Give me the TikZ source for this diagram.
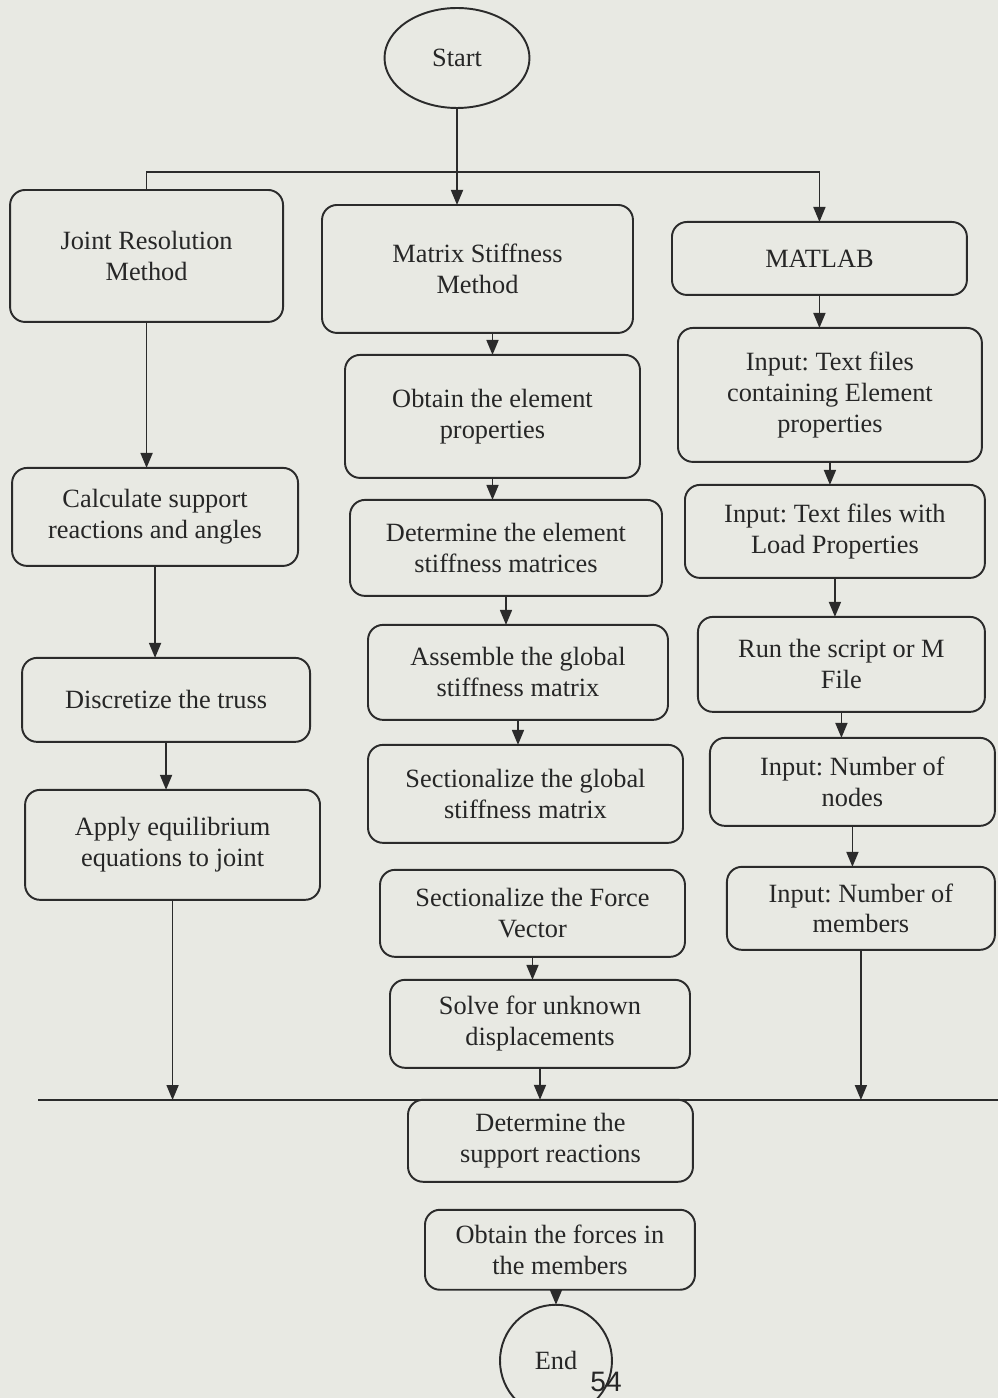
\documentclass[tikz,border=0pt]{standalone}
\usepackage{fontspec}
\setmainfont{Liberation Serif}
\setsansfont{Liberation Sans}
\usepackage{xcolor}
\usepackage{tikz}
\usetikzlibrary{shapes.geometric, arrows.meta, positioning}
\definecolor{paper}{HTML}{E8E9E3}
\definecolor{inkline}{HTML}{2B2B2B}
\definecolor{inktext}{HTML}{262626}
\frenchspacing

\begin{document}
\begin{tikzpicture}[
  x=0.02cm, y=-0.02cm,
  every node/.style={font=\fontsize{15}{17.6}\selectfont, text=inktext},
  box/.style={rectangle, rounded corners=0.3cm, draw=inkline, line width=1.1pt, align=center, inner sep=2pt, outer sep=0pt},
  terminal/.style={ellipse, draw=inkline, line width=1.1pt, inner sep=0pt, outer sep=0pt},
  arrow/.style={-{Triangle[length=0.3cm, width=0.24cm]}, line width=1pt, color=inkline},
  joinline/.style={line width=1.3pt, color=inkline}
]

% page frame
\path[use as bounding box, fill=paper] (0,0) rectangle (998,1398);
\clip (0,0) rectangle (998,1398);

% === TOP: start and the three methods ===
\node[terminal, minimum width=2.9cm, minimum height=2cm] (start) at (457,58) {Start};

\node[box, minimum width=6.22cm, minimum height=2.56cm, below=1.94cm of start, xshift=0.41cm] (ms) {Matrix Stiffness\\Method};
\node[box, minimum width=5.46cm, minimum height=2.64cm, left=0.78cm of ms, yshift=0.26cm] (jr) {Joint Resolution\\Method};
\node[box, minimum width=5.9cm, minimum height=1.46cm, right=0.78cm of ms, yshift=0.21cm] (matlab) {MATLAB};

% bus from start to the three columns
\coordinate (bus) at (457,172);
\draw[arrow] (start) -- (start |- ms.north);
\draw[arrow] (jr.north) |- (bus) -| (matlab.north);

% === COLUMN 1: Joint Resolution ===
\node[box, minimum width=5.72cm, minimum height=1.96cm, below=2.92cm of jr, xshift=0.17cm] (support) {Calculate support\\reactions and angles};
\node[box, minimum width=5.76cm, minimum height=1.68cm, below=1.84cm of support, xshift=0.22cm] (discretize) {Discretize the truss};
\node[box, minimum width=5.9cm, minimum height=2.2cm, below=0.96cm of discretize, xshift=0.13cm] (equil) {Apply equilibrium\\equations to joint};

\draw[arrow] (jr.south) -- (jr.south |- support.north);
\draw[arrow] (support.south) -- (support.south |- discretize.north);
\draw[arrow] (discretize.south) -- (discretize.south |- equil.north);

% === COLUMN 2: Matrix Stiffness ===
\node[box, minimum width=5.9cm, minimum height=2.46cm, below=0.44cm of ms, xshift=0.3cm] (elprop) {Obtain the element\\properties};
\node[box, minimum width=6.24cm, minimum height=1.92cm, below=0.44cm of elprop, xshift=0.27cm] (elstiff) {Determine the element\\stiffness matrices};
\node[box, minimum width=6cm, minimum height=1.9cm, below=0.58cm of elstiff, xshift=0.24cm] (assemble) {Assemble the global\\stiffness matrix};
\node[box, minimum width=6.3cm, minimum height=1.96cm, below=0.5cm of assemble, xshift=0.15cm] (seckmat) {Sectionalize the global\\stiffness matrix};
\node[box, minimum width=6.1cm, minimum height=1.74cm, below=0.54cm of seckmat, xshift=0.14cm] (secforce) {Sectionalize the Force\\Vector};
\node[box, minimum width=6cm, minimum height=1.76cm, below=0.46cm of secforce, xshift=0.15cm] (solve) {Solve for unknown\\displacements};

\draw[arrow] (elprop.north |- ms.south) -- (elprop.north);
\draw[arrow] (elprop.south) -- (elprop.south |- elstiff.north);
\draw[arrow] (elstiff.south) -- (elstiff.south |- assemble.north);
\draw[arrow] (assemble.south) -- (assemble.south |- seckmat.north);
\draw[arrow] (secforce.south) -- (secforce.south |- solve.north);

% === COLUMN 3: MATLAB ===
\node[box, minimum width=6.08cm, minimum height=2.68cm, below=0.66cm of matlab, xshift=0.21cm] (inelem) {Input: Text files\\containing Element\\properties};
\node[box, minimum width=6cm, minimum height=1.86cm, below=0.46cm of inelem, xshift=0.1cm] (inload) {Input: Text files with\\Load Properties};
\node[box, minimum width=5.74cm, minimum height=1.9cm, below=0.78cm of inload, xshift=0.13cm] (runfile) {Run the script or M\\File};
\node[box, minimum width=5.7cm, minimum height=1.76cm, below=0.52cm of runfile, xshift=0.22cm] (innodes) {Input: Number of\\nodes};
\node[box, minimum width=5.36cm, minimum height=1.66cm, below=0.82cm of innodes, xshift=0.17cm] (inmembers) {Input: Number of\\members};

\draw[arrow] (matlab.south) -- (matlab.south |- inelem.north);
\draw[arrow] (inelem.south) -- (inelem.south |- inload.north);
\draw[arrow] (inload.south) -- (inload.south |- runfile.north);
\draw[arrow] (runfile.south) -- (runfile.south |- innodes.north);
\draw[arrow] (innodes.south) -- (innodes.south |- inmembers.north);

% === JOIN LINE and common end ===
\coordinate (joinL) at (38,1100);
\coordinate (joinR) at (998,1100);
\draw[joinline] (joinL) -- (joinR);

\node[box, minimum width=5.7cm, minimum height=1.64cm, below=0.64cm of solve, xshift=0.21cm] (reactions) {Determine the\\support reactions};
\node[box, minimum width=5.4cm, minimum height=1.6cm, below=0.56cm of reactions, xshift=0.19cm] (forces) {Obtain the forces in\\the members};
\node[terminal, circle, minimum size=2.24cm, below=0.3cm of forces, xshift=-0.08cm] (end) {End};

\draw[arrow] (equil.south) -- (equil.south |- joinL);
\draw[arrow] (solve.south) -- (solve.south |- reactions.north);
\draw[arrow] (inmembers.south) -- (inmembers.south |- joinR);
\draw[arrow] (end.north |- forces.south) -- (end.north);

% page number
\node[font=\sffamily\fontsize{16}{16}\selectfont] (pagenum) at (606,1382) {54};

\end{tikzpicture}
\end{document}
